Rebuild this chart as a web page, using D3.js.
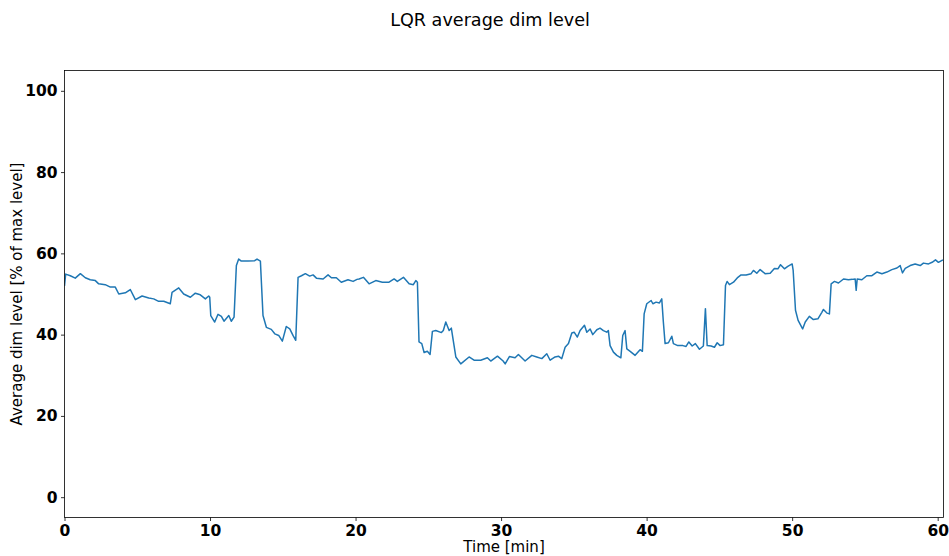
<!DOCTYPE html>
<html><head><meta charset="utf-8">
<script src="https://cdn.jsdelivr.net/npm/d3@7"></script>
<style>body{margin:0;background:#fff}</style>
</head><body>
<svg id="c" width="949" height="556"></svg>
<script>
const titleText = "LQR average dim level";
const xLabel = "Time [min]";
const yLabel = "Average dim level [% of max level]";
const xTicks = [0,10,20,30,40,50,60];
const yTicks = [0,20,40,60,80,100];
const times = [0,0.08,0.40,0.74,1.09,1.43,1.77,2.12,2.35,2.80,3.15,3.49,3.73,4.18,4.52,4.87,5.33,5.79,6.13,6.47,6.82,7.27,7.39,7.85,8.19,8.65,8.99,9.33,9.68,9.91,9.98,10.05,10.32,10.55,10.78,10.96,11.29,11.46,11.65,11.81,11.97,12.15,12.61,13.07,13.23,13.46,13.64,13.87,14.21,14.45,14.72,14.97,15.24,15.48,15.70,15.89,16.05,16.28,16.55,16.85,17.08,17.31,17.77,18.11,18.34,18.68,19.02,19.48,19.83,20.10,20.24,20.54,20.93,21.39,21.84,22.30,22.65,22.87,23.29,23.68,23.97,24.14,24.25,24.36,24.55,24.71,24.93,25.12,25.28,25.51,25.90,26.03,26.20,26.43,26.58,26.89,27.23,27.80,28.14,28.60,29.06,29.29,29.75,30.14,30.28,30.57,30.96,31.19,31.65,32.11,32.45,32.80,33.14,33.37,33.71,33.94,34.17,34.40,34.63,34.86,35.02,35.24,35.43,35.73,35.89,36.12,36.30,36.58,36.80,37.03,37.26,37.37,37.49,37.72,37.95,38.23,38.36,38.52,38.64,38.87,39.21,39.55,39.71,39.83,40.01,40.31,40.43,40.65,40.88,41.04,41.15,41.27,41.50,41.73,41.84,42.14,42.49,42.71,42.90,43.13,43.35,43.63,43.90,44.04,44.16,44.43,44.66,44.85,45.05,45.28,45.42,45.53,45.69,45.97,46.27,46.49,46.84,47.18,47.34,47.57,47.80,48.14,48.49,48.78,49.02,49.20,49.47,49.70,50.00,50.07,50.23,50.41,50.72,50.90,51.18,51.46,51.77,52.04,52.15,52.39,52.56,52.68,52.91,53.18,53.53,53.87,54.14,54.33,54.40,54.47,54.79,55.13,55.48,55.82,56.17,56.51,56.85,57.20,57.42,57.58,57.77,58.11,58.45,58.80,59.02,59.37,59.62,59.85,60.05,60.36];
const dimLevel = [52.0,54.9,54.5,53.9,55.0,54.0,53.5,53.3,52.5,52.3,51.7,51.7,50.0,50.3,51.1,48.6,49.5,49.0,48.8,48.2,48.2,47.6,50.4,51.5,50.0,49.2,50.2,49.8,48.8,49.5,49.2,44.7,43.1,45.0,44.5,43.3,44.7,43.3,44.3,57.0,58.6,58.1,58.1,58.2,58.6,58.1,44.7,41.8,41.3,40.2,39.8,38.4,42.0,41.4,39.8,38.6,54.1,54.5,55.0,54.4,54.7,53.9,53.7,54.7,54.0,54.0,52.9,53.5,53.1,53.6,53.7,54.1,52.5,53.3,52.9,52.9,53.7,53.1,54.1,52.5,52.3,53.3,52.9,38.2,37.8,35.6,35.9,35.1,40.8,41.0,40.5,41.0,43.1,41.0,41.6,34.5,32.8,34.5,33.7,33.7,34.3,33.5,34.7,33.5,32.8,34.6,34.3,35.1,33.5,34.9,34.5,34.1,35.3,33.7,34.5,34.7,34.1,36.9,37.8,40.4,40.6,39.4,41.0,42.3,40.6,41.4,40.0,41.2,41.6,41.0,40.6,41.0,37.3,35.7,34.9,34.3,39.8,41.0,36.5,35.9,34.9,36.3,35.9,45.1,47.6,48.4,47.6,48.0,47.8,48.8,43.1,37.8,38.0,39.6,37.8,37.3,37.3,37.1,38.2,37.2,37.8,36.4,37.2,46.4,37.3,37.2,36.9,38.0,37.3,37.5,52.1,53.1,52.3,52.9,54.1,54.7,54.7,55.0,55.8,55.1,56.0,55.0,55.1,56.3,56.2,57.2,56.2,56.8,57.4,55.8,46.0,43.5,41.4,43.1,44.5,43.7,43.9,45.5,46.2,45.3,45.1,52.5,53.1,52.7,53.7,53.5,53.6,53.7,50.9,53.7,53.5,54.5,54.5,55.4,55.0,55.4,56.0,56.4,57.0,55.2,56.3,57.0,57.4,57.0,57.6,57.4,57.8,58.4,57.8,58.4];

const svg = d3.select("#c");
const W = 949, H = 556;
const m = {l:64.5, r:943.5, t:70.5, b:517.5};
const x = d3.scaleLinear().domain([0,60.4]).range([m.l,m.r]);
const y = d3.scaleLinear().domain([-5,105]).range([m.b,m.t]);

svg.append("rect").attr("width",W).attr("height",H).attr("fill","#fff");

const data = times.map((t,i)=>({t, v:dimLevel[i]}));
svg.append("defs").append("clipPath").attr("id","clip").append("rect")
  .attr("x",m.l).attr("y",m.t).attr("width",m.r-m.l).attr("height",m.b-m.t);
svg.append("path").datum(data)
  .attr("clip-path","url(#clip)")
  .attr("fill","none").attr("stroke","#1f77b4").attr("stroke-width",1.5)
  .attr("stroke-linejoin","round")
  .attr("d", d3.line().x(d=>x(d.t)).y(d=>y(d.v)));

const fontB = "'DejaVu Sans', sans-serif";
const xAxis = svg.append("g").attr("transform",`translate(0,${m.b})`)
  .call(d3.axisBottom(x).tickValues(xTicks).tickSize(3.5).tickPadding(3.5).tickFormat(d3.format("d")));
const yAxis = svg.append("g").attr("transform",`translate(${m.l},0)`)
  .call(d3.axisLeft(y).tickValues(yTicks).tickSize(3.5).tickPadding(3.5).tickFormat(d3.format("d")));
[xAxis,yAxis].forEach(a=>{
  a.select(".domain").remove();
  a.selectAll("line").attr("stroke","#000").attr("stroke-width",0.8);
  a.selectAll("text").attr("fill","#000").style("font-family",fontB)
   .style("font-size","15.5px").style("font-weight","bold");
});

svg.append("rect").attr("x",m.l).attr("y",m.t).attr("width",m.r-m.l).attr("height",m.b-m.t)
  .attr("fill","none").attr("stroke","#000").attr("stroke-width",0.8);

svg.append("text").attr("x",490).attr("y",26).attr("text-anchor","middle")
  .style("font-family",fontB).style("font-size","17.6px").text(titleText);
svg.append("text").attr("x",(m.l+m.r)/2).attr("y",552).attr("text-anchor","middle")
  .style("font-family",fontB).style("font-size","15px").text(xLabel);
svg.append("text").attr("transform",`translate(22,${(m.t+m.b)/2}) rotate(-90)`)
  .attr("text-anchor","middle")
  .style("font-family",fontB).style("font-size","15px").text(yLabel);
</script>
</body></html>
